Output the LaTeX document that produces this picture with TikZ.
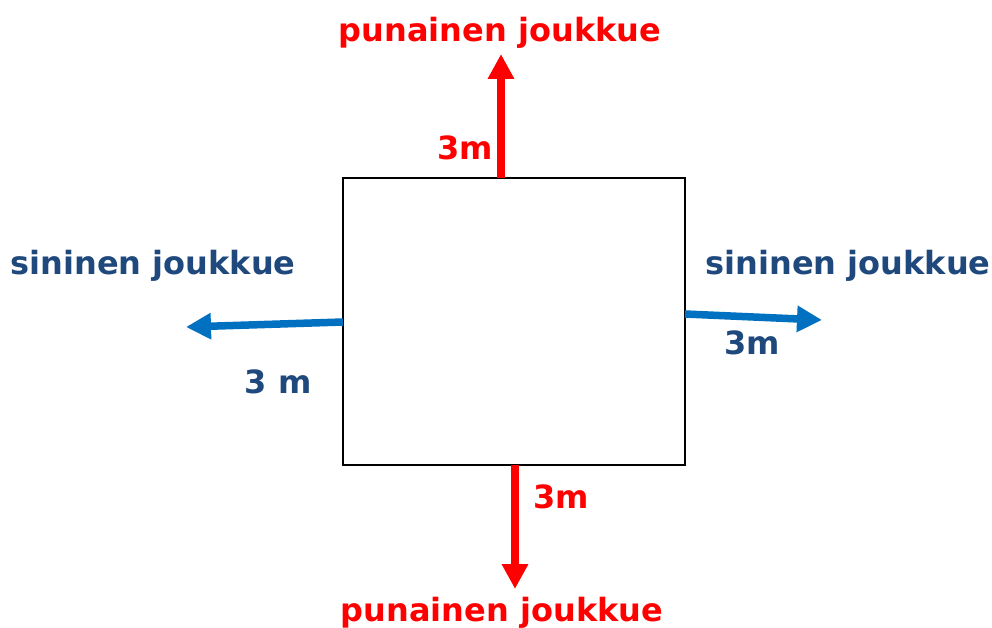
\documentclass[tikz,border=0pt]{standalone}
\usepackage{fontspec}
\setmainfont{DejaVu Sans}
\usetikzlibrary{arrows.meta}
\definecolor{punainen}{HTML}{FF0000}
\definecolor{sininen}{HTML}{0070C0}
\definecolor{teksti}{HTML}{1F497D}

\begin{document}
\begin{tikzpicture}[x=1pt, y=-1pt,
        red/.style={draw=punainen, line width=8pt, -{Triangle[length=25pt, width=25pt]}},
        blue/.style={draw=sininen, line width=7.5pt, -{Triangle[length=25pt, width=25pt]}},
        redtext/.style={text=punainen, font=\bfseries\fontsize{32}{34}\selectfont, inner sep=0},
        bluetext/.style={text=teksti, font=\bfseries\fontsize{32}{34}\selectfont, inner sep=0}]
        \useasboundingbox (0,0) rectangle (992,628);

        \node (box) [draw, line width=1.5pt, minimum width=342pt, minimum height=287pt, inner sep=0] at (514,321.5) {};

        \coordinate (top) at (501,178);
        \coordinate (topend) at (501,54);
        \coordinate (bot) at (515,465);
        \coordinate (botend) at (515,589);
        \coordinate (left) at (343,322);
        \coordinate (leftend) at (186,327);
        \coordinate (right) at (685,314);
        \coordinate (rightend) at (822,320);

        \draw [red] (top) -- (topend);
        \draw [red] (bot) -- (botend);
        \draw [blue] (left) -- (leftend);
        \draw [blue] (right) -- (rightend);

        \node (t1) [redtext] at (500,33) {punainen joukkue};
        \node (t2) [redtext] at (465,148) {3m};
        \node (t3) [redtext] at (561,497) {3m};
        \node (t4) [redtext] at (502,613) {punainen joukkue};
        \node (s1) [bluetext] at (153,266) {sininen joukkue};
        \node (s2) [bluetext] at (848,266) {sininen joukkue};
        \node (s3) [bluetext] at (278,382) {3 m};
        \node (s4) [bluetext] at (752,343) {3m};
    \end{tikzpicture}
\end{document}
